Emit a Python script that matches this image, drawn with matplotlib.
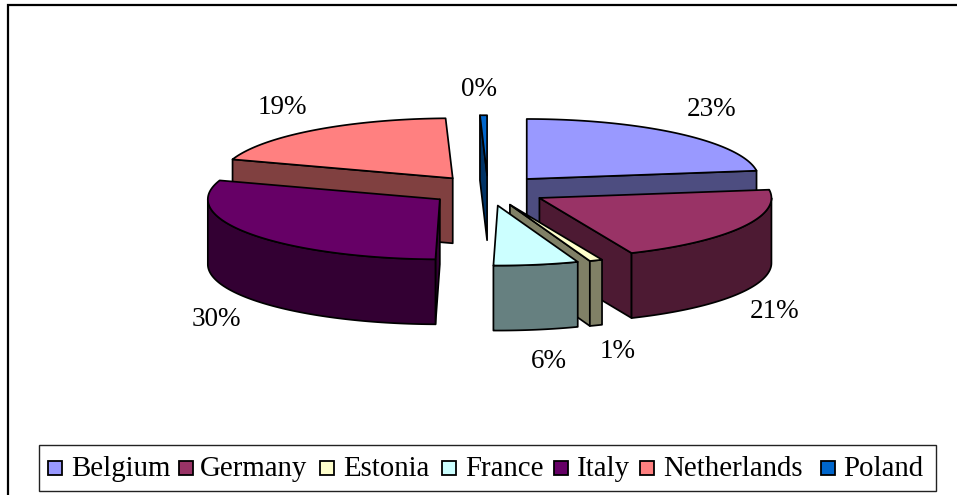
import numpy as np
import matplotlib
matplotlib.use("Agg")
import matplotlib.pyplot as plt
from matplotlib.patches import Polygon, Rectangle

plt.rcParams['font.family'] = ['Liberation Serif', 'DejaVu Serif']

# Data
countries = ["Belgium", "Germany", "Estonia", "France", "Italy", "Netherlands", "Poland"]
shares = [22.8, 20.7, 0.9, 5.9, 29.8, 19.41, 0.49]
top_colors = ["#9999FF", "#993366", "#FFFFCC", "#CCFFFF", "#660066", "#FF8080", "#0066CC"]
side_colors = ["#4D4D80", "#4D1A33", "#808066", "#668080", "#330033", "#804040", "#003366"]

# Pie geometry, in pixels
CX, CY = 488.0, 190.5
RX, RY = 232.0, 60.0
DEPTH = 65.0
EXPLODE = 59.0
LW = 1.25

# Label anchors and legend layout, in pixels
label_xy = [(712, 110), (775, 311), (618, 352), (549, 361), (216, 319), (282, 107), (479, 89)]
swatch_x = [48, 179, 320, 442, 554, 640, 821]
text_x = [71, 200, 343, 465, 577, 663, 843]
# Slices are painted back to front
paint_order = [0, 5, 6, 1, 4, 2, 3]

fig = plt.figure(figsize=(9.57, 4.95), dpi=100)
ax = fig.add_axes([0, 0, 1, 1])
ax.set_xlim(0, 957)
ax.set_ylim(495, 0)
ax.axis("off")

total = sum(shares)
edges = np.concatenate([[0.0], np.cumsum(shares)]) / total * 2 * np.pi


def rim(t, x0, y0):
    return np.column_stack([x0 + RX * np.sin(t), y0 - RY * np.cos(t)])


def face(points, color, z):
    ax.add_patch(Polygon(points, closed=True, facecolor=color, edgecolor="black",
                         linewidth=LW, joinstyle="round", zorder=z))


down = np.array([0.0, DEPTH])
z = 2
for i in paint_order:
    t0, t1 = edges[i], edges[i + 1]
    mid = (t0 + t1) / 2
    x0 = CX + EXPLODE * np.sin(mid)
    y0 = CY - EXPLODE * (RY / RX) * np.cos(mid)
    apex = np.array([[x0, y0]])

    # Cut faces, only those turned toward the viewer
    for t, facing in ((t0, np.sin(t0) < 0), (t1, np.sin(t1) > 0)):
        if facing:
            edge = np.vstack([apex, rim(np.array([t]), x0, y0)])
            face(np.vstack([edge, edge[::-1] + down]), side_colors[i], z)
            z += 1

    # Outer wall, front half of the rim only
    a, b = max(t0, np.pi / 2), min(t1, 3 * np.pi / 2)
    if b > a:
        arc = rim(np.linspace(a, b, 80), x0, y0)
        face(np.vstack([arc, arc[::-1] + down]), side_colors[i], z)
        z += 1

    # Top face
    top = rim(np.linspace(t0, t1, 120), x0, y0)
    face(np.vstack([apex, top]), top_colors[i], z)
    z += 1

# Percentage labels
for share, (lx, ly) in zip(shares, label_xy):
    ax.text(lx, ly, f"{round(share / total * 100)}%", ha="center", va="center",
            fontsize=19.5, color="black", zorder=50)

# Outer frame, cut off by the right and bottom edges
ax.plot([8, 8, 957], [495, 5, 5], color="black", lw=1.6, zorder=40,
        solid_joinstyle="miter")

# Legend
ax.add_patch(Rectangle((38.5, 445), 897.5, 45.5, facecolor="white", edgecolor="#222222",
                       linewidth=1.0, zorder=41))
for name, color, sx, tx in zip(countries, top_colors, swatch_x, text_x):
    ax.add_patch(Rectangle((sx, 461), 14, 14, facecolor=color, edgecolor="black",
                           linewidth=1.3, zorder=42))
    ax.text(tx, 475.5, name, ha="left", va="baseline", fontsize=20.8, color="black", zorder=43)

fig.savefig("out.png", dpi=100, facecolor="white")
